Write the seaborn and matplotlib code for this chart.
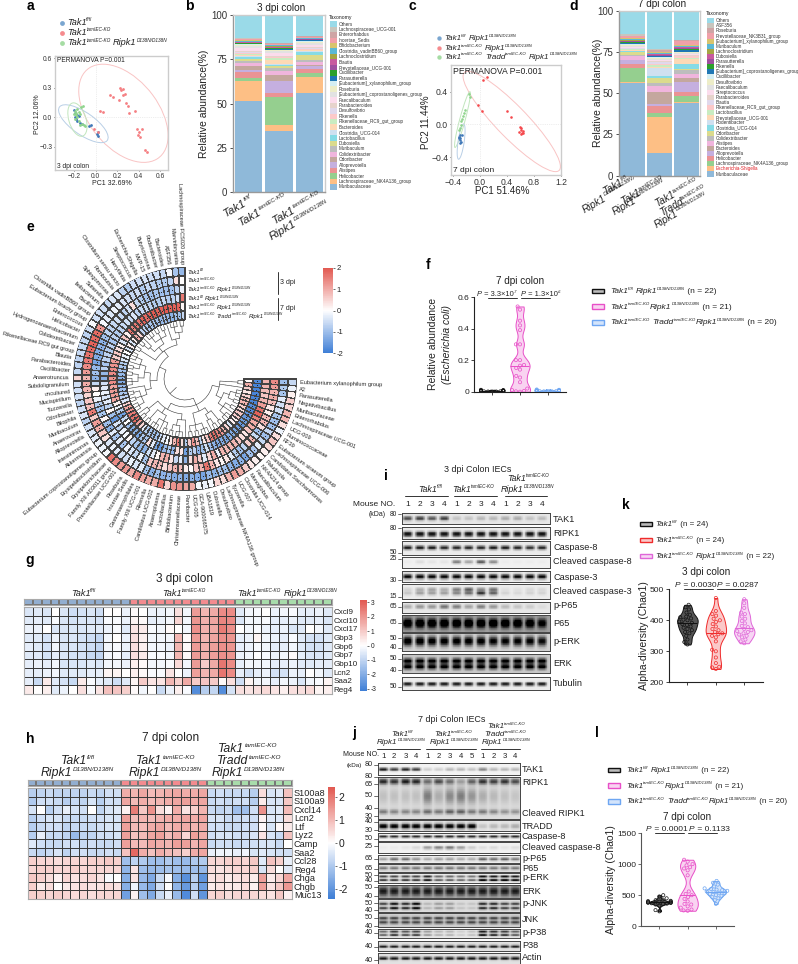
"""Multi-panel colon microbiome and western blot figure (panels a to l)."""

import numpy as np
import pandas as pd
import matplotlib
matplotlib.use("Agg")
import matplotlib.pyplot as plt
from matplotlib.colors import ListedColormap
from matplotlib.patches import Ellipse, Rectangle
import seaborn as sns

W, H = 798, 964

# ─── Panel a / c: PCoA points ────────────────────────────────────────────────

A_RED_X = [0.13, 0.165, 0.226, 0.233, 0.258, 0.22, 0.25, 0.273, 0.28, 0.30, 0.31, 0.37, 0.04, 0.065, -0.015, 0.025, 0.388, 0.43, 0.407, 0.395, 0.413, 0.46, 0.475]
A_RED_Y = [0.23, 0.205, 0.30, 0.275, 0.29, 0.18, 0.23, 0.237, 0.143, 0.115, 0.045, 0.063, 0.066, 0.052, -0.118, -0.146, -0.118, -0.118, -0.146, -0.18, -0.205, -0.334, -0.352]
A_BLUE_X = [-0.19, -0.17, -0.185, -0.16, -0.2, -0.145, -0.13, -0.06, -0.045, 0.02, 0.025, 0.015, -0.177, -0.19]
A_BLUE_Y = [0.04, 0.02, -0.014, 0.01, 0.07, -0.06, -0.066, -0.094, -0.084, -0.153, -0.188, -0.17, -0.038, 0.003]
A_GREEN_X = [-0.19, -0.17, -0.16, -0.2, -0.18, -0.15, -0.17, -0.14, -0.12, -0.19, -0.16, -0.13, -0.11, -0.1, -0.15, -0.18]
A_GREEN_Y = [0.06, 0.08, 0.05, 0.03, 0.04, 0.03, 0.0, 0.1, 0.11, -0.02, -0.04, -0.07, -0.08, -0.09, -0.08, 0.02]

C_RED_X = [0.11, 0.05, -0.03, 0.035, 0.40, 0.46, 0.59, 0.60, 0.58, 0.62, 0.64, 0.607, 0.63, 0.6]
C_RED_Y = [0.58, 0.545, 0.24, 0.17, 0.16, 0.094, -0.025, -0.065, -0.09, -0.10, -0.086, -0.12, -0.107, -0.045]
C_GREEN_X = [-0.16, -0.15, -0.22, -0.237, -0.267, -0.277, -0.286, -0.296, -0.306, -0.257]
C_GREEN_Y = [0.37, 0.34, 0.18, 0.14, 0.066, 0.037, -0.004, -0.045, -0.066, 0.098]
C_BLUE_X = [-0.3, -0.31, -0.29, -0.295, -0.28, -0.27, -0.31, -0.3]
C_BLUE_Y = [-0.13, -0.15, -0.16, -0.19, -0.22, -0.13, -0.17, -0.23]

# center x, center y, major, minor, angle
A_ELLIPSES = {"red": (0.258, 0.04, 1.12, 0.66, -56), "blue": (-0.115, -0.066, 0.56, 0.22, -38), "green": (-0.17, -0.024, 0.35, 0.16, -75)}
C_ELLIPSES = {"red": (0.47, 0.037, 1.85, 0.42, -40), "green": (-0.26, 0.06, 0.72, 0.08, 72), "blue": (-0.28, -0.21, 0.44, 0.09, 80)}

# ─── Panel b / d: taxa stacks, bottom to top ─────────────────────────────────

TAXA_B = ["Muribaculaceae", "Lachnospiraceae_NK4A136_group", "Helicobacter", "Alistipes", "Alloprevotella", "Odoribacter",
          "Colidextribacter", "Muribaculum", "Dubosiella", "Lactobacillus", "Clostridia_UCG-014", "Bacteroides",
          "Rikenellaceae_RC9_gut_group", "Rikenella", "Desulfovibrio", "Parabacteroides", "Faecalibaculum",
          "[Eubacterium]_coprostanoligenes_group", "Roseburia", "[Eubacterium]_xylanophilum_group", "Parasutterella",
          "Oscillibacter", "Prevotellaceae_UCG-001", "Blautia", "Lachnoclostridium", "Clostridia_vadinBB60_group",
          "Bifidobacterium", "Incertae_Sedis", "Enterorhabdus", "Lachnospiraceae_UCG-001", "Others"]
B_BAR1 = [51.5, 11, 2, 3.5, 1, 2, 2, 1, 1, 1.5, 0.5, 0.5, 0.5, 0.5, 0.5, 0.5, 2, 1, 0.5, 0.5, 0.3, 0.3, 0.3, 0.3, 0.3, 0.5, 0.4, 0.3, 0.4, 0.3, 12.9]
B_BAR2 = [34.5, 3.5, 15.5, 2.5, 6.5, 3.5, 2.5, 1.5, 1, 0.5, 1, 2, 1, 0.5, 0.5, 0.5, 1.5, 1, 0.5, 0.5, 0.3, 0.3, 0.5, 0.6, 0.3, 0.4, 0.3, 0.4, 0.4, 0.4, 15.6]
B_BAR3 = [56, 9, 2, 2.5, 1.5, 1, 1.5, 1, 3, 1.5, 0.5, 0.5, 0.5, 0.5, 0.5, 0.5, 1, 1, 1, 0.5, 0.3, 0.2, 0.2, 0.2, 0.3, 0.2, 0.3, 0.4, 0.3, 0.3, 11.8]

TAXA_D = ["Muribaculaceae", "Escherichia-Shigella", "Lachnospiraceae_NK4A136_group", "Helicobacter", "Alloprevotella", "Bacteroides",
          "Alistipes", "Colidextribacter", "Odoribacter", "Clostridia_UCG-014", "Rodentibacter", "Prevotellaceae_UCG-001",
          "Lactobacillus", "Rikenellaceae_RC9_gut_group", "Blautia", "Parabacteroides", "Streptococcus", "Faecalibaculum",
          "Desulfovibrio", "Oscillibacter", "[Eubacterium]_coprostanoligenes_group", "Rikenella", "Parasutterella", "Dubosiella",
          "Lachnoclostridium", "Muribaculum", "[Eubacterium]_xylanophilum_group", "Prevotellaceae_NK3B31_group", "Roseburia", "ASF356", "Others"]
D_BAR1 = [56.4, 0.1, 8.5, 2.7, 2.3, 0.3, 2.4, 0.5, 1.5, 0.8, 0.3, 0.3, 0.4, 0.3, 0.3, 0.5, 0.3, 0.8, 0.5, 0.5, 0.6, 0.6, 0.5, 0.5, 0.5, 0.5, 0.6, 0.9, 0.5, 1.0, 14.1]
D_BAR2 = [14, 21.8, 2, 4.6, 1, 7.6, 3.3, 1.7, 3.5, 1, 4.5, 1, 1, 1, 0.7, 0.7, 0.7, 0.6, 0.4, 0.7, 0.5, 0.3, 0.5, 0.4, 0.4, 0.4, 0.4, 0.5, 0.7, 0.6, 23.3]
D_BAR3 = [44, 0.5, 3.8, 2.7, 6, 2, 2.6, 2.4, 0.5, 3, 0.4, 3, 0.3, 1.2, 0.4, 0.5, 0.4, 0.5, 0.5, 0.4, 0.8, 0.7, 0.6, 0.6, 0.5, 0.6, 0.5, 2.2, 0.6, 0.3, 17.5]

STACK_COLORS = ["#8fb9d9", "#fdbf85", "#95cf8f", "#ea9394", "#c5afdf", "#c4a79e", "#f0b5dd", "#bdbdbd", "#dbdb8d", "#86dbe6",
                "#cfe0f0", "#fdd9b5", "#c9ecc1", "#fcc9c9", "#e0d8ec", "#e6d3cc", "#fbdcec", "#e2e2e2", "#ededc8", "#d4eef3",
                "#1f77b4", "#2ca02c", "#9f4f9f", "#c85a9e", "#a5a544", "#5bb8d5", "#d8c46d", "#f0a0a8", "#cfa5a5", "#c9c5bd", "#9adae8"]

# ─── Panel e: circular heatmap, outer ring first ─────────────────────────────

E_TAXA = ["Lachnospiraceae FCS020 group", "Marvinbryantia", "ASF356", "Bacteroides", "Rodentibacter", "Butyricimonas", "MVP-15",
          "Escherichia-Shigella", "Streptococcus", "Harryflintia", "Clostridium sensu stricto", "Romboutsia", "Sphingomonas",
          "Sutterella", "Ileibacterium", "Bacillus", "Clostridia vadinBB60 group", "Eubacterium brachy group", "Enterococcus",
          "Helicobacter", "Hydrogenoanaerobacterium", "Colidextribacter", "Rikenellaceae RC9 gut group", "Blautia",
          "Parabacteroides", "Oscillibacter", "Anaerotruncus", "Subdoligranulum", "uncultured", "Mucispirillum", "Tuzzerella",
          "Odoribacter", "Bilophila", "Muribaculum", "Anaerovorax", "Alloprevotella", "Intestinimonas", "Akkermansia",
          "Eubacterium coprostanoligenes group", "Erysipelatoclostridium", "Erysipelotrichaceae", "Family XIII AD3011 group",
          "Prevotellaceae UCG-001", "Roseburia", "Incertae Sedis", "Gastranaerophilales", "Family XIII UCG-001", "Rikenella",
          "Candidatus UCG-002", "Anaeroplasma", "Lactobacillus", "Bifidobacterium", "Christensenellaceae", "Parvibacter",
          "UCG-005", "GCA-900066575", "UBA1819", "Dubosiella", "Desulfovibrio", "Lachnospiraceae NK4A136 group", "Tyzzerella",
          "UCG-007", "Clostridia UCG-014", "Monoglobus", "Faecalibaculum", "NK4A214 group", "Paludicola",
          "Candidatus Saccharimonas", "Lachnospiraceae UCG-006", "Eubacterium siraeum group", "RF39", "Ruminococcaceae",
          "UCG-009", "Lachnospiraceae UCG-001", "Enterorhabdus", "Muribaculaceae", "Negativibacillus", "Parasutterella", "A2",
          "Eubacterium xylanophilum group"]
E_RING1 = [-1.1, -0.9, -0.1, -0.6, -0.5, -0.5, -0.4, -0.5, -0.5, -0.8,
           -0.7, -0.4, -0.4, -0.6, -0.5, -0.5, -0.5, -0.1, -0.5, -0.7,
           -0.6, -0.6, -0.6, -0.7, -0.7, -0.6, 0.5, -0.5, -0.5, -0.5,
           -0.7, -0.5, -0.4, -0.7, -0.5, -0.4, -0.3, -0.2, -0.2, -0.1,
           1.7, 1.4, 1.2, 1.2, 1.0, 1.4, 1.1, 1.0, 1.0, 1.7,
           0.5, 1.3, 1.3, 1.1, 1.0, -0.1, -0.2, -0.1, 0.5, 0.4,
           0.9, 1.2, 1.0, 0.6, 0.3, 0.2, 0.1, 0.2, 0.5, 0.7,
           0.4, -0.2, 0.4, 0.9, 0.9, 0.5, 0.6, 0.2, -0.2, -0.6]
E_RING2 = [0.0, 0.4, -0.7, -0.8, -0.8, -0.7, -0.6, -0.8, -0.5, -0.6,
           -0.5, -0.4, -0.3, -0.2, -0.4, -0.3, -0.1, 1.3, 1.8, 1.8,
           1.9, 1.8, 1.7, 1.6, 1.4, 1.2, 0.9, 1.0, 0.9, 0.5,
           0.7, 0.8, 1.6, 0.6, 1.2, 1.0, 0.7, 0.4, -0.4, -0.2,
           -0.3, -0.5, -0.5, -0.2, -0.4, -0.3, -1.0, -1.2, -1.0, -1.2,
           -1.1, -1.3, -1.2, -1.3, -1.2, -1.3, -1.4, -1.1, -1.2, -1.0,
           -1.0, -1.2, -1.3, -1.2, -1.4, -1.0, -0.9, -0.3, -0.6, -1.0,
           -0.6, -1.0, -1.0, -0.9, -0.5, -0.5, -0.3, -0.9, -0.8, -1.0]
E_RING3 = [-0.2, -0.7, -1.0, -1.0, -1.0, -0.9, -1.0, -0.9, -0.8, -0.6,
           0.4, -0.5, -0.7, -0.6, -0.5, -0.6, -0.7, -0.7, -1.0, -1.2,
           -1.2, -1.3, -1.3, -1.4, -1.1, -1.0, -1.2, -0.6, 0.2, 0.0,
           -0.2, -0.8, -1.0, -0.9, 0.1, -1.0, -1.2, -0.3, -0.9, -0.3,
           -0.9, -0.2, -0.4, -0.6, -0.2, -0.9, 0.7, 0.9, 0.8, 0.4,
           0.7, 0.9, 0.8, 0.2, 0.0, 0.7, 0.9, 1.7, 0.9, 0.3,
           0.1, 0.3, -0.3, -0.8, -1.0, -0.7, 0.6, 0.9, -0.6, -1.0,
           0.4, 0.9, 0.8, 0.2, 0.3, 0.8, 1.0, 0.9, 1.2, 1.4]
E_RING4 = [1.6, -0.5, -0.7, -0.8, -0.6, -0.8, -0.8, -0.7, -0.6, -0.6,
           -0.7, -0.4, -0.6, -0.5, -0.6, -0.7, -0.8, -0.7, -0.9, -0.7,
           -0.8, -0.7, -0.7, -0.9, -0.7, -1.1, -1.2, -0.5, -0.3, -0.2,
           -0.4, -0.3, -0.7, 0.1, -1.0, -1.6, -0.4, -0.7, -0.2, -0.1,
           0.1, -0.7, -0.9, -1.1, -1.2, -0.5, -0.3, 0.1, 0.9, 1.0,
           0.3, -0.6, -0.3, -1.2, 0.4, 1.0, 0.6, -0.3, 0.5, 1.0,
           -0.2, 0.9, 0.8, 0.9, 0.9, 0.7, 0.4, 0.3, 0.7, 1.0,
           1.0, 1.5, 1.9, 1.7, 1.2, 0.9, 0.7, 0.8, 0.9, 0.9]
E_RING5 = [0.1, 1.9, 1.9, 1.9, 2.0, 1.9, 1.9, 2.0, 1.9, 1.8,
           1.9, 1.7, 1.6, 1.5, 1.7, 0.2, 0.7, -0.4, 0.2, 0.4,
           0.7, 0.6, 1.2, 1.3, 1.4, 1.4, 1.3, 1.4, 1.1, 1.2,
           1.2, 1.1, 0.2, -0.2, -0.8, -1.5, -0.6, 0.0, -1.0, -1.3,
           -1.2, -1.4, -0.9, -0.9, 0.4, -0.3, -1.4, -1.6, -1.1, -0.9,
           -1.2, 0.4, 0.3, -1.5, -0.8, -0.7, -1.2, -1.0, -0.5, -1.0,
           -1.2, -1.3, -1.3, -1.4, -1.3, -1.3, -1.4, -1.5, -1.6, -1.5,
           -1.6, -1.7, -1.8, -1.8, -1.9, -1.9, -1.9, -1.9, -1.9, -1.8]
E_RING6 = [-0.6, -1.0, -1.0, -1.2, -1.1, -1.0, -1.1, -1.0, -0.9, -0.9,
           -0.9, -0.7, -0.7, 0.5, 1.0, 0.2, -0.4, 0.2, -0.4, 0.0,
           -0.2, -0.4, -0.8, -0.9, -1.0, -1.1, -1.2, -1.3, -1.1, -1.0,
           -0.9, -0.7, -0.4, 0.6, 1.1, 1.3, 1.6, 1.7, 1.8, 1.2,
           0.5, -0.3, -0.8, -0.9, -1.0, -1.0, -0.6, -0.3, -0.1, 0.3,
           0.9, 1.6, 0.4, -0.8, 0.6, 1.3, 0.8, -0.7, 0.3, 0.7,
           1.6, 1.8, 1.5, 1.3, 0.9, 0.5, -0.4, 0.2, 0.2, 0.6,
           0.7, 0.4, 0.6, 0.9, 0.8, 0.5, 0.3, 0.6, 1.0, 0.1]
TREE_RADII = [53, 47, 41, 35, 28, 21]
TREE_SPLITS = [[2, 3, 1, 2], [2, 1, 3], [2, 2, 1], [3, 2], [2, 3], [3, 2]]

# ─── Panels f, k, l: violins ─────────────────────────────────────────────────

F_BLACK = [0.0, 0.001, 0.001, 0.002, 0.002, 0.002, 0.003, 0.003, 0.003, 0.004, 0.004, 0.004, 0.005, 0.005, 0.006, 0.006, 0.007, 0.007, 0.008, 0.009, 0.01, 0.012]
F_PINK = [0.0, 0.002, 0.005, 0.01, 0.02, 0.06, 0.09, 0.1, 0.14, 0.15, 0.165, 0.17, 0.2, 0.2, 0.3, 0.3, 0.39, 0.42, 0.45, 0.52, 0.54]
F_BLUE = [0.001, 0.002, 0.002, 0.003, 0.003, 0.004, 0.004, 0.005, 0.005, 0.005, 0.006, 0.006, 0.007, 0.007, 0.008, 0.008, 0.009, 0.01, 0.012, 0.014]
K_BLACK = [322, 330, 338, 350, 358, 362, 368, 372, 376, 380, 385, 388, 392, 396, 400, 402, 406, 410, 412, 418, 425, 435, 442, 450]
K_RED = [243, 248, 250, 262, 280, 300, 305, 332, 345, 350, 355, 358, 362, 368, 372, 380, 388, 395, 400, 405, 415, 420, 430, 472]
K_VIOLET = [326, 332, 338, 345, 350, 354, 358, 362, 365, 368, 372, 378, 382, 390, 398, 405, 412, 420, 425, 440, 455, 468]
L_BLACK = [240, 260, 330, 350, 360, 365, 370, 375, 378, 380, 385, 388, 390, 395, 400, 405, 410, 420, 430, 450, 480, 500]
L_PINK = [250, 255, 270, 300, 320, 350, 360, 400, 440, 470, 500, 520, 560, 820, 900, 930, 950, 980, 1000, 1040, 1070]
L_BLUE = [360, 420, 450, 470, 490, 500, 520, 530, 540, 550, 560, 570, 580, 590, 600, 610, 640, 670, 700, 730]

# ─── Panel g / h: expression heatmaps ────────────────────────────────────────

G_GENES = ["Cxcl9", "Cxcl10", "Cxcl17", "Gbp3", "Gbp6", "Gbp7", "Gbp10", "Lcn2", "Saa2", "Reg4"]
G_VALUES = [
    [-0.6, -0.5, -0.6, 0, -0.6, -0.8, -0.7, -0.6, -0.8, 0, 0, -0.3, 0.1, 0, -0.3, -0.3, -0.2, 0.6, -0.2, 1.9, 1.4, 1.6, 2.2, 2.2, -0.5, -0.2, -0.1, 0, -0.3, -0.2, -0.1, -0.4, -0.4, -0.3, -0.5],
    [-0.5, -0.4, -0.5, -0.1, -0.6, -0.7, -0.6, -0.6, -0.7, -0.1, -0.1, -0.3, 0.2, 0.1, -0.4, -0.3, -0.2, 0.8, -0.2, 2.0, 1.5, 1.7, 2.3, 2.2, -0.6, -0.2, -0.2, -0.1, -0.4, -0.4, -0.3, -0.5, -0.5, -0.4, -0.6],
    [-0.3, -0.3, 0, -0.6, -0.6, -0.6, -0.6, -0.5, -0.5, -0.3, -0.1, -0.5, 0.5, 0.4, -0.1, -0.2, 0.1, 0, -0.2, 2.1, 1.5, 1.6, 2.5, 2.1, 0, -0.2, -0.1, -0.3, -0.4, -0.3, -0.6, -0.5, 0, -0.2, -0.5],
    [-0.5, -0.5, -0.7, -0.3, -0.6, -0.6, -0.7, -0.8, -1.0, -0.2, 0, -0.3, 0.6, 0.3, -0.2, -0.2, -0.2, 1.4, 0.1, 1.9, 1.4, 1.7, 2.1, 2.0, -0.4, -0.3, 0.2, -0.2, -0.3, -0.4, -0.1, -0.5, -0.7, -0.7, -0.5],
    [-0.4, -0.5, -0.7, -0.2, -0.6, -0.6, -0.7, -0.8, -1.0, -0.2, -0.1, -0.3, 0.6, 0.3, -0.2, -0.2, -0.3, 1.4, 0.1, 1.9, 1.5, 1.8, 2.1, 2.0, -0.4, -0.3, -0.1, -0.2, -0.4, -0.4, -0.2, -0.5, -0.7, -0.7, -0.5],
    [-0.5, -0.5, -0.7, -0.4, -0.6, -0.7, -0.7, -0.9, -1.0, -0.2, -0.1, -0.4, 0.6, 0.4, -0.1, -0.1, -0.2, 1.4, 0.1, 1.9, 1.5, 1.8, 2.1, 2.0, -0.3, -0.2, 0, -0.1, -0.3, -0.2, 0.1, -0.4, -0.6, -0.6, -0.5],
    [-0.4, -0.3, -0.4, -0.2, -0.6, -0.6, -0.6, -0.5, -0.6, -0.2, -0.2, -0.3, 0.3, 0.1, -0.2, -0.2, -0.1, 0.7, -0.2, 1.9, 1.0, 1.6, 2.6, 2.2, -0.4, -0.2, -0.2, -0.2, -0.4, -0.4, -0.3, -0.5, -0.5, -0.4, -0.4],
    [-0.4, -0.4, -0.3, -0.2, -0.5, -0.5, -0.5, -0.4, -0.4, 0.2, 0.2, 0, 0.3, 0.1, -0.1, -0.1, 0.5, 0, -0.3, 1.8, 1.4, 1.6, 2.6, 2.2, -0.4, -0.7, -0.4, -0.3, -0.7, -0.7, -0.3, -0.4, 0, -0.2, -0.5],
    [-0.4, -0.9, 0.4, -0.5, -0.7, -0.9, 0.4, -0.1, -0.4, -0.5, -0.8, -0.5, 0.2, 1.0, 0.5, 0.5, 1.4, 0.9, 1.6, 1.0, 1.1, 1.0, 0.1, 0.6, -0.8, 0.2, -0.2, -0.2, -0.4, -0.2, -0.3, -0.6, -0.2, -0.1, 0.2],
    [0.4, 0, 0.3, -0.5, -0.3, 0.0, 0.6, -0.1, 0.5, 1.2, 1.1, 0.9, 0.1, -0.2, 0, -0.9, -0.3, 0.3, -0.1, -2.8, -1.2, -1.0, -2.8, -0.7, 0.6, 0.5, 0.6, 0.7, 0.5, 0.3, 0.6, 0.6, 0.7, 0.2, 0.3],
]
G_GROUPS = [0] * 12 + [1] * 12 + [2] * 11

H_GENES = ["S100a8", "S100a9", "Cxcl14", "Lcn2", "Ltf", "Lyz2", "Camp", "Saa2", "Ccl28", "Reg4", "Chga", "Chgb", "Muc13"]
H_VALUES = [
    [-0.9, -0.8, -0.7, -0.8, -0.8, -0.8, -0.8, -0.7, -0.8, -0.6, -0.6, 1.2, 1.1, 1.3, 1.0, 1.1, 1.2, 1.3, 1.2, 1.2, 1.3, -0.7, -0.6, -0.7, -0.7, -0.7, -0.9, 0.5, -0.5, -0.4, 0.9],
    [-1.0, -0.6, -0.6, -0.7, -0.9, -0.7, -0.8, -0.5, -0.9, -0.6, -0.6, 1.3, 1.0, 1.2, 1.0, 1.1, 1.2, 1.3, 1.4, 1.2, 1.3, -0.7, -0.6, -0.7, -0.6, -0.6, -0.9, 0.3, -0.5, -0.5, 0.8],
    [-0.5, 0.0, -0.9, -0.6, -0.3, -0.5, -0.6, 0.0, -0.8, -0.5, -0.4, 0.2, 1.9, 0.8, 1.6, 0.5, 0.2, 1.2, 0.4, 0.7, 1.1, -0.7, -0.8, -0.7, -1.2, -1.2, -0.6, 1.6, -0.5, -0.4, 1.0],
    [-0.9, -0.6, -0.5, -0.5, -0.7, -0.7, -0.7, -0.6, -0.6, -0.5, -0.5, 1.4, 1.0, 1.1, 1.0, 1.1, 1.2, 1.2, 1.3, 1.2, 1.3, -0.5, -0.5, -0.7, -0.7, -0.6, -0.6, 0.2, -0.4, -0.4, 0.5],
    [-0.9, -0.7, -0.6, -0.6, -0.8, -0.7, -0.7, -0.7, -0.6, -0.5, -0.5, 1.4, 1.0, 1.0, 1.2, 1.3, 1.0, 1.2, 1.2, 1.1, 1.2, -0.6, -0.6, -0.7, -0.7, -0.6, -0.6, 0.1, -0.5, 0.1, 0.3],
    [-0.9, -0.3, -0.7, -0.7, -0.8, -1.3, -0.8, -0.8, -0.6, -0.6, -0.5, 1.4, 0.9, 1.0, 1.3, 1.4, 1.0, 1.2, 0.6, 1.4, 1.2, -0.6, -0.5, -0.5, -0.6, -0.6, -0.5, 0.4, -0.5, -0.7, 0.9],
    [-0.4, -0.6, -0.7, -0.7, -0.6, -0.6, -0.7, -0.6, -0.7, -0.7, -0.6, 1.4, 1.0, 1.0, 1.3, 1.2, 1.1, 1.4, 1.4, 1.1, 1.3, -0.7, -0.6, -0.6, -0.7, -0.6, -0.6, -0.5, -0.5, -0.7, 0.0],
    [-0.7, -0.8, -0.7, -0.5, -0.8, -0.6, -0.6, -0.7, -0.7, -0.6, -0.7, 0.9, 2.2, 1.2, 0.9, 1.2, 1.0, 0.9, 0.7, 1.2, 1.3, -0.3, -0.2, -0.2, -0.3, -0.2, -0.5, -0.4, -0.5, -0.6, -0.6],
    [0.7, 0.6, 0.6, 0.5, 0.6, 0.6, 0.6, 0.7, 0.7, 0.8, 0.7, -1.2, -0.8, -1.0, -1.2, -1.2, -1.0, -1.2, -1.3, -1.0, -1.0, 0.6, 0.6, 0.7, 0.7, 0.6, 0.8, -0.4, 0.9, 0.7, -0.3],
    [0.6, 0.7, 0.7, 0.6, 0.6, 0.7, 0.6, 0.6, 0.6, 0.6, 0.6, -1.4, 0.4, -1.2, -1.3, -1.2, -1.1, -1.2, -1.3, -1.2, -1.3, 0.5, 0.4, 0.5, 0.6, 0.6, 0.7, -0.5, 0.5, 0.0, -0.4],
    [0.8, 0.7, 0.5, 0.2, 0.6, 0.4, 0.5, 0.6, 0.4, -0.1, 0.0, -1.5, 0.4, -1.3, -1.6, -0.7, -0.1, -1.5, -2.1, -0.9, -2.0, 0.4, 0.5, 0.3, 0.4, 0.5, 0.3, 1.4, 0.3, 0.6, 1.3],
    [0.7, 0.3, 0.5, 0.0, 0.3, 0.4, 0.5, 0.4, 0.4, 0.5, 0.4, -1.5, -0.2, -1.3, -1.6, -0.6, 0.0, -1.4, -1.9, -0.9, -1.8, 0.3, 0.4, 0.3, 0.3, 0.5, 0.2, 1.4, 0.4, 0.8, 1.5],
    [0.7, 0.7, 0.6, 0.7, 0.6, 0.5, 0.6, 0.5, 0.6, 0.6, 0.6, -1.8, 0.2, -1.2, -1.6, -0.7, -0.3, -1.3, -2.2, -0.6, -2.0, 0.6, 0.7, 0.5, 0.6, 0.6, 0.6, 0.5, 0.4, 0.8, 0.2],
]
H_GROUPS = [0] * 11 + [1] * 10 + [2] * 10

# ─── Panel i / j: band intensities per lane ──────────────────────────────────

I_TAK1 = [0.65, 0.7, 0.6, 0.7, 0.15, 0.15, 0.2, 0.2, 0.25, 0.25, 0.15, 0.18]
I_RIPK1 = [0.95] * 12
I_CASP8 = [0.85, 0.85, 0.85, 0.8, 0.8, 0.8, 0.8, 0.85, 0.85, 0.8, 0.75, 0.8]
I_CL_CASP8 = [0.02, 0.08, 0.05, 0.05, 0.45, 0.3, 0.6, 0.4, 0.02, 0.02, 0.02, 0.02]
I_CASP3 = [0.95] * 12
I_CL_CASP3_A = [0.1, 0.25, 0.3, 0.25, 0.45, 0.6, 0.4, 0.5, 0.05, 0.05, 0.08, 0.08]
I_CL_CASP3_B = [0.15, 0.3, 0.3, 0.3, 0.4, 0.5, 0.75, 0.55, 0.1, 0.08, 0.1, 0.1]
I_PP65 = [0.25, 0.35, 0.35, 0.5, 0.45, 0.3, 0.45, 0.35, 0.2, 0.15, 0.12, 0.05]
I_P65 = [0.95, 0.95, 0.95, 0.95, 0.95, 0.95, 0.95, 0.95, 0.95, 0.95, 0.9, 0.75]
I_PERK = [1.0, 1.0, 0.95, 0.95, 0.95, 0.95, 0.95, 0.9, 0.9, 0.9, 0.9, 0.85]
I_ERK = [0.9] * 12
I_TUB = [0.95] * 12

J_TAK1 = [0.9, 0.75, 0.85, 0.75, 0.15, 0.15, 0.25, 0.25, 0.2, 0.45, 0.25, 0.25, 0.25]
J_RIPK1 = [0.75, 0.7, 0.8, 0.75, 0.45, 0.6, 0.45, 0.25, 0.5, 0.7, 0.65, 0.7, 0.6]
J_SMEAR = [0.12, 0.12, 0.12, 0.12, 0.4, 0.2, 0.35, 0.4, 0.3, 0.2, 0.15, 0.12, 0.1]
J_CL_RIPK1 = [0.4, 0.35, 0.35, 0.35, 0.45, 0.4, 0.5, 0.5, 0.4, 0.4, 0.35, 0.3, 0.3]
J_TRADD = [1, 1, 1, 1, 1, 1, 1, 1, 1, 0.15, 0.2, 0.2, 0.25]
J_CASP8 = [0.85] * 13
J_CL_CASP8 = [0.03, 0.03, 0.05, 0.1, 0.35, 0.45, 0.5, 0.35, 0.15, 0.08, 0.1, 0.05, 0.08]
J_PP65 = [0.3, 0.5, 0.5, 0.35, 0.25, 0.3, 0.3, 0.25, 0.25, 0.55, 0.5, 0.55, 0.45]
J_P65 = [0.4] * 13
J_PERK = [0.7, 0.7, 0.7, 0.7, 0.85, 0.55, 0.55, 0.5, 0.5, 0.95, 0.9, 0.95, 0.9]
J_ERK = [0.6] * 13
J_PJNK = [0.6, 0.8, 0.7, 0.85, 0.15, 0.25, 0.25, 0.1, 0.1, 0.7, 0.7, 0.6, 0.6]
J_JNK = [0.55] * 13
J_PP38 = [0.5, 0.7, 0.6, 0.65, 0.3, 0.2, 0.2, 0.1, 0.15, 0.85, 0.75, 0.7, 0.55]
J_P38 = [0.8] * 13
J_ACTIN = [0.85] * 13

HEAT_CMAP = sns.blend_palette(["#3f7fd6", "#ffffff", "#e25a52"], as_cmap=True)
GROUP_CMAP = ListedColormap(["#92aed0", "#f38b8f", "#a8dcab"])

sns.set_theme(style="ticks")
plt.rcParams["font.family"] = ["Liberation Sans", "DejaVu Sans"]
plt.rcParams["axes.linewidth"] = 0.7
plt.rcParams["xtick.major.width"] = 0.6
plt.rcParams["ytick.major.width"] = 0.6
TEXT = "#222222"

fig = plt.figure(figsize=(W / 100, H / 100), dpi=100)
fig.patch.set_facecolor("white")
renderer = fig.canvas.get_renderer()

ov = fig.add_axes([0, 0, 1, 1], zorder=10)
ov.set_xlim(0, W)
ov.set_ylim(H, 0)
ov.axis("off")
ov.patch.set_alpha(0)


def px_axes(x0, y0, x1, y1, **kwargs):
    return fig.add_axes([x0 / W, 1 - y1 / H, (x1 - x0) / W, (y1 - y0) / H], **kwargs)


def rich(x, y, parts, size, rotation=0, color=TEXT):
    """Lay out (text, kind) runs on a baseline; kinds: i italic, s superscript, r roman, g gap."""
    ang = np.radians(rotation)
    for s, kind in parts:
        if kind == "g":
            w = 0.26 * size * 100 / 72
        else:
            fs = size * 0.52 if kind == "s" else size
            rise = size * 0.42 * 100 / 72 if kind == "s" else 0
            px, py = x - np.sin(ang) * rise, y - np.cos(ang) * rise
            t = ov.text(px, py, s, fontsize=fs, style="normal" if kind == "r" else "italic",
                        ha="left", va="baseline", color=color, rotation=0, rotation_mode="anchor")
            w = t.get_window_extent(renderer).width
            t.set_rotation(rotation)
        x += w * np.cos(ang)
        y -= w * np.sin(ang)


def label(x, y, s, size=6, ha="left", va="center", **kwargs):
    kwargs.setdefault("color", TEXT)
    ov.text(x, y, s, fontsize=size, ha=ha, va=va, **kwargs)


TAK_FL = [("Tak1", "i"), ("fl/fl", "s")]
TAK_KO = [("Tak1", "i"), ("tamIEC-KO", "s")]
RIPK = [("Ripk1", "i"), ("D138N/D138N", "s")]
TRADD = [("Tradd", "i"), ("tamIEC-KO", "s")]
GAP = [("", "g")]

for letter, x, y in [("a", 30, 6), ("b", 189, 6), ("c", 412, 6), ("d", 574, 6), ("e", 30, 227), ("f", 428, 265),
                     ("g", 30, 560), ("h", 30, 739), ("i", 386, 476), ("j", 354, 733), ("k", 626, 505), ("l", 597, 733)]:
    label(x, y, letter, size=10, ha="center", fontweight="bold", color="black")


# ─── Scatter panels ──────────────────────────────────────────────────────────

def pcoa_panel(rect, series, ellipses, xlim, ylim, xticks, yticks, fs):
    ax = px_axes(*rect)
    for name, xs, ys, col in series:
        sns.scatterplot(x=xs, y=ys, color=col, s=fs["s"], linewidth=0, ax=ax, zorder=3)
    edge = {"red": "#f9c4c4", "blue": "#b9cfe6", "green": "#c1e6bd"}
    for name, (cx, cy, major, minor, angle) in ellipses.items():
        ax.add_patch(Ellipse((cx, cy), major, minor, angle=angle, fill=False, edgecolor=edge[name], linewidth=0.7))
    ax.axhline(0, color="#dddddd", linewidth=0.5, linestyle=":")
    ax.axvline(0, color="#dddddd", linewidth=0.5, linestyle=":")
    ax.set(xlim=xlim, ylim=ylim, xticks=xticks, yticks=yticks)
    ax.tick_params(labelsize=fs["tick"], length=1, pad=1, colors="#333333")
    for sp in ax.spines.values():
        sp.set_color("#cccccc")
        sp.set_linewidth(1)
    return ax


pcoa_panel((55, 56, 168, 170),
           [("blue", A_BLUE_X, A_BLUE_Y, "#3f78b8"), ("red", A_RED_X, A_RED_Y, "#f57f82"), ("green", A_GREEN_X, A_GREEN_Y, "#8fd48d")],
           A_ELLIPSES, (-0.379, 0.673), (-0.537, 0.623), [-0.2, 0, 0.2, 0.4, 0.6], [-0.3, 0, 0.3, 0.6],
           {"s": 4, "tick": 4.8})
pcoa_panel((451, 65, 561, 175),
           [("green", C_GREEN_X, C_GREEN_Y, "#8fd48d"), ("blue", C_BLUE_X, C_BLUE_Y, "#3f78b8"), ("red", C_RED_X, C_RED_Y, "#f5494d")],
           C_ELLIPSES, (-0.43, 1.2), (-0.62, 0.73), [-0.4, 0, 0.4, 0.8, 1.2], [-0.4, 0, 0.4],
           {"s": 3.5, "tick": 6.2})

label(57, 60, "PERMANOVA P=0.001", size=4.8)
label(57, 166, "3 dpi colon", size=4.8)
label(111.7, 183.5, "PC1 32.69%", size=5, ha="center")
label(37.7, 114, "PC2 12.06%", size=5, ha="center", rotation=90)
label(453, 71, "PERMANOVA P=0.001", size=6.2)
label(453, 171, "7 dpi colon", size=6)
label(502.7, 191, "PC1 51.46%", size=7, ha="center")
label(426, 121.7, "PC2 11.44%", size=7, ha="center", rotation=90)

for y, col, parts in [(22.7, "#7aa6d0", TAK_FL), (32.7, "#f58b8e", TAK_KO), (43, "#a5dca3", TAK_KO + GAP + RIPK)]:
    ov.scatter([61.7], [y], s=12, color=col, linewidth=0)
    rich(66.7, y + 2.4, parts, 6.6)
for y, col, parts in [(37.7, "#7aa6d0", TAK_FL + GAP + RIPK), (47.7, "#f58b8e", TAK_KO + GAP + RIPK),
                      (56.5, "#a5dca3", TAK_KO + GAP + TRADD + GAP + RIPK)]:
    ov.scatter([439.3], [y], s=10, color=col, linewidth=0)
    rich(444, y + 2.2, parts, 5.8)


# ─── Stacked bars ────────────────────────────────────────────────────────────

def stacked_panel(rect, taxa, bars, ylabel_x, title_xy, tick_size):
    ax = px_axes(*rect)
    samples = ["s1", "s2", "s3"]
    bottom = np.zeros(3)
    for i, name in enumerate(taxa):
        vals = np.array([b[i] for b in bars], dtype=float)
        sns.barplot(x=samples, y=vals, bottom=bottom, color=STACK_COLORS[i], saturation=1, width=0.9,
                    linewidth=0, edgecolor="none", ax=ax)
        bottom += vals
    ax.set(xlim=(-0.5, 2.5), ylim=(0, 100), yticks=[0, 25, 50, 75, 100], xlabel="", ylabel="")
    ax.set_xticklabels([])
    ax.tick_params(axis="y", labelsize=tick_size, length=2.5, pad=1.5, colors="#333333")
    ax.tick_params(axis="x", length=2, color="#888888")
    for sp in ax.spines.values():
        sp.set_color("#999999")
        sp.set_linewidth(1)
    ax.spines["top"].set_color("#cccccc")
    ax.spines["right"].set_color("#cccccc")
    label(ylabel_x, (rect[1] + rect[3]) / 2, "Relative abundance(%)", size=7.5, ha="center", rotation=90)
    label(title_xy[0], title_xy[1], title_xy[2], size=7.2, ha="center")
    return ax


def taxa_legend(taxa, x_swatch, y_top, step, title_y, red=None):
    label(x_swatch - 1, title_y, "Taxonomy", size=3.7)
    for i, name in enumerate(reversed(taxa)):
        y = y_top + i * step
        ov.add_patch(Rectangle((x_swatch, y - step / 2), 7, step, facecolor=STACK_COLORS[len(taxa) - 1 - i], edgecolor="none"))
        label(x_swatch + 8.5, y, name, size=3.3, color="#e01f26" if name == red else "#333333")


stacked_panel((233, 15, 325, 192), TAXA_B, [B_BAR1, B_BAR2, B_BAR3], 204, (281, 8, "3 dpi colon"), 7)
stacked_panel((619, 10.7, 700, 175.7), TAXA_D, [D_BAR1, D_BAR2, D_BAR3], 598, (662, 4, "7 dpi colon"), 7)
taxa_legend(TAXA_B, 330, 24, 5.43, 17.5)
taxa_legend(TAXA_D, 707, 20.7, 5.11, 14, red="Escherichia-Shigella")

rich(226, 217, TAK_FL, 8.2, rotation=30)
rich(241, 226, TAK_KO, 8.2, rotation=30)
rich(275, 224, TAK_KO, 8.2, rotation=30)
rich(272, 240, RIPK, 8.2, rotation=30)
rich(605, 195, TAK_FL, 7.2, rotation=30)
rich(585, 213, RIPK, 7.2, rotation=30)
rich(623, 205, TAK_KO, 7.2, rotation=30)
rich(615, 215, RIPK, 7.2, rotation=30)
rich(657, 207, TAK_KO, 7.2, rotation=30)
rich(662, 216, TRADD, 7.2, rotation=30)
rich(657, 228, RIPK, 7.2, rotation=30)


# ─── Circular heatmap ────────────────────────────────────────────────────────

E_CX, E_CY, E_R0, E_R1 = 185, 379, 59, 112
ax_e = px_axes(E_CX - E_R1, E_CY - E_R1, E_CX + E_R1, E_CY + E_R1, projection="polar")
rings = np.array([E_RING1, E_RING2, E_RING3, E_RING4, E_RING5, E_RING6], dtype=float)
n_taxa = rings.shape[1]
theta_edges = np.radians(np.linspace(90, 360, n_taxa + 1))
r_edges = np.linspace(E_R0, E_R1, 7)
ax_e.pcolormesh(theta_edges, r_edges, rings[::-1], cmap=HEAT_CMAP, vmin=-2, vmax=2, edgecolors="#444444", linewidth=0.25)
theta_mid = (theta_edges[:-1] + theta_edges[1:]) / 2
r_mid = (r_edges[:-1] + r_edges[1:]) / 2
for ring_i, r in zip([1, 2, 4, 5], [r_mid[4], r_mid[3], r_mid[1], r_mid[0]]):
    keep = np.abs(rings[ring_i]) >= 0.8
    ax_e.scatter(theta_mid[keep], np.full(keep.sum(), r), s=0.4, color="#111111", linewidth=0, zorder=4)

# dendrogram: merge neighbouring leaves inward level by level
nodes = [(t, E_R0) for t in theta_mid]
for radius, splits in zip(TREE_RADII, TREE_SPLITS):
    merged, i, s = [], 0, 0
    while i < len(nodes):
        group = nodes[i:i + splits[s % len(splits)]]
        for t, r in group:
            ax_e.plot([t, t], [r, radius], color="#333333", linewidth=0.4)
        ts = [t for t, _ in group]
        ax_e.plot(np.linspace(min(ts), max(ts), 12), np.full(12, radius), color="#333333", linewidth=0.4)
        merged.append((np.mean(ts), radius))
        i += len(group)
        s += 1
    nodes = merged
ts = [t for t, _ in nodes]
for t, r in nodes:
    ax_e.plot([t, t], [r, 12], color="#333333", linewidth=0.4)
ax_e.plot(np.linspace(min(ts), max(ts), 30), np.full(30, 12), color="#333333", linewidth=0.4)

for t, name in zip(theta_mid, E_TAXA):
    deg = np.degrees(t)
    left = deg < 270
    ax_e.text(t, E_R1 + 3, name, fontsize=4.1, color=TEXT, va="center", ha="right" if left else "left",
              rotation=deg - 180 if left else deg - 360, rotation_mode="anchor", clip_on=False)
ax_e.set_theta_zero_location("E")
ax_e.set_theta_direction(1)
ax_e.set_rlim(0, E_R1)
ax_e.axis("off")

row_parts = [TAK_FL, TAK_KO, TAK_KO + GAP + RIPK, TAK_FL + GAP + RIPK, TAK_KO + GAP + RIPK, TAK_KO + GAP + TRADD + GAP + RIPK]
for i, parts in enumerate(row_parts):
    rich(187, 273.5 + i * 8.85, parts, 4.2)
ov.plot([278, 278], [272, 294], color="#333333", linewidth=0.7)
ov.plot([278, 278], [298, 320], color="#333333", linewidth=0.7)
label(280.5, 283, "3 dpi", size=5)
label(280.5, 308, "7 dpi", size=5)


def heat_colorbar(rect, vmax, ticks, size):
    cax = px_axes(*rect)
    sns.heatmap(np.linspace(vmax, -vmax, 120).reshape(-1, 1), cmap=HEAT_CMAP, vmin=-vmax, vmax=vmax, cbar=False,
                xticklabels=False, yticklabels=False, ax=cax)
    cax.set_yticks([(vmax - t) / (2 * vmax) * 120 for t in ticks])
    cax.set_yticklabels([str(t) for t in ticks], rotation=0, fontsize=size, color=TEXT)
    cax.yaxis.tick_right()
    cax.tick_params(axis="y", length=1.5, pad=1, color="#555555")
    return cax


heat_colorbar((323, 268, 333, 353), 2, [2, 1, 0, -1, -2], 5.5)
heat_colorbar((360, 600, 367, 691), 3.15, [3, 2, 1, 0, -1, -2, -3], 4.8)
heat_colorbar((328, 787, 335, 899), 2.43, [2, 1, 0, -1, -2], 7.5)


# ─── Expression heatmaps ─────────────────────────────────────────────────────

def expression_panel(bar_rect, heat_rect, values, genes, groups, vmax, gene_size):
    ax_bar = px_axes(*bar_rect)
    sns.heatmap([groups], cmap=GROUP_CMAP, vmin=-0.5, vmax=2.5, cbar=False, xticklabels=False, yticklabels=False,
                linewidths=0.3, linecolor="#777777", ax=ax_bar)
    ax = px_axes(*heat_rect)
    df = pd.DataFrame(values, index=genes)
    sns.heatmap(df, cmap=HEAT_CMAP, vmin=-vmax, vmax=vmax, cbar=False, xticklabels=False, yticklabels=True,
                linewidths=0.45, linecolor="#3a3a3a", ax=ax)
    ax.yaxis.tick_right()
    ax.tick_params(axis="y", length=0, pad=1.5, labelsize=gene_size, labelcolor=TEXT, rotation=0)
    for a in (ax, ax_bar):
        for sp in a.spines.values():
            sp.set_visible(True)
            sp.set_color("#aaaaaa")
            sp.set_linewidth(0.8)


expression_panel((24.3, 599, 331.7, 605), (24.3, 607, 331.7, 694), G_VALUES, G_GENES, G_GROUPS, 3.15, 5.8)
expression_panel((27.7, 780, 291.7, 786), (27.7, 788, 291.7, 899), H_VALUES, H_GENES, H_GROUPS, 2.43, 6.6)

label(184, 579, "3 dpi colon", size=8.5, ha="center")
rich(70.7, 596, TAK_FL, 6.6)
rich(162, 596, TAK_KO, 6.6)
rich(237, 596, TAK_KO + GAP + RIPK, 6.6)

label(171, 738, "7 dpi colon", size=8.5, ha="center")
rich(61, 764, TAK_FL, 8.8)
rich(41, 776, RIPK, 8.8)
rich(136, 764, TAK_KO, 8.8)
rich(129, 776, RIPK, 8.8)
rich(218, 752, TAK_KO, 8.8)
rich(217, 764, TRADD, 8.8)
rich(212, 776, RIPK, 8.8)


# ─── Violins ─────────────────────────────────────────────────────────────────

def violin_panel(rect, values, lines, fills, ylim, yticks, fmt, bw, spine="#222222"):
    ax = px_axes(*rect)
    groups = ["g1", "g2", "g3"]
    df = pd.DataFrame({"group": np.repeat(groups, [len(v) for v in values]), "value": np.concatenate(values)})
    sns.violinplot(data=df, x="group", y="value", hue="group", order=groups, hue_order=groups,
                   palette=dict(zip(groups, fills)), legend=False, inner=None, cut=0, density_norm="width",
                   width=0.72, bw_adjust=bw, linewidth=0.7, saturation=1, ax=ax)
    polys = list(ax.collections)
    for i, poly in enumerate(polys):
        poly.set_edgecolor(lines[i])
        med = ax.hlines(np.median(values[i]), i - 0.5, i + 0.5, color=lines[i], linewidth=0.7, zorder=2)
        med.set_clip_path(poly.get_paths()[0], poly.get_transform())
    for i, g in enumerate(groups):
        sns.swarmplot(data=df[df["group"] == g], x="group", y="value", order=groups, color="none", edgecolor=lines[i],
                      linewidth=0.5, size=2.3, ax=ax, warn_thresh=1)
    ax.set(xlim=(-0.65, 2.65), ylim=ylim, yticks=yticks, xlabel="", ylabel="", xticks=[0, 1, 2])
    ax.set_xticklabels([])
    ax.set_yticklabels([fmt.format(t) for t in yticks])
    ax.patch.set_alpha(0)
    ax.tick_params(axis="y", labelsize=6, length=2.5, pad=1, labelcolor=TEXT, color=spine)
    ax.tick_params(axis="x", length=2, color=spine)
    for side in ("top", "right"):
        ax.spines[side].set_visible(False)
    for side in ("left", "bottom"):
        ax.spines[side].set_color(spine)
        ax.spines[side].set_linewidth(0.8)
    return ax


def violin_key(x_box, x_text, rows, size):
    for y, line, fill, parts in rows:
        ov.add_patch(Rectangle((x_box, y - 2.3), 11.5, 4.6, facecolor=fill, edgecolor=line, linewidth=1))
        rich(x_text, y + 2, parts, size)


def p_header(items, size):
    for x_text, y_text, parts, x0, x1, y_line in items:
        rich(x_text, y_text, parts, size)
        ov.plot([x0, x1], [y_line, y_line], color="#333333", linewidth=0.7)


BLACK, BLACK_F, BLACK_V = "#111111", "#bbbbbb", "#555555"
MAGENTA, MAGENTA_F = "#e84fc8", "#f9d3f1"
SKY, SKY_F = "#6ea6f2", "#d3e4fb"
RED, RED_F = "#ef2b2b", "#fbc9c9"
VIOLET, VIOLET_F = "#df66d8", "#f7d6f4"

violin_panel((474, 297, 566, 391.7), [F_BLACK, F_PINK, F_BLUE], [BLACK, MAGENTA, SKY], [BLACK_V, MAGENTA_F, SKY_F],
             (0, 0.6), [0, 0.2, 0.4, 0.6], "{:g}", 0.35)
label(520, 281, "7 dpi colon", size=7.2, ha="center")
label(433, 344, "Relative abundance", size=7.5, ha="center", rotation=90)
label(447, 344, "(Escherichia coli)", size=7.5, ha="center", rotation=90, style="italic")
p_header([(477, 296, [("P", "i"), (" = 3.3×10", "r"), ("-7", "s")], 488, 517, 298),
          (521, 296, [("P", "i"), (" = 1.3×10", "r"), ("-6", "s")], 521, 550, 298)], 5.4)
R_N = lambda n: [(f" (n = {n})", "r")]
violin_key(592, 610, [(291, BLACK, BLACK_F, TAK_FL + GAP + RIPK + R_N(22)),
                      (306.7, MAGENTA, MAGENTA_F, TAK_KO + RIPK + R_N(21)),
                      (322.3, SKY, SKY_F, TAK_KO + GAP + TRADD + RIPK + R_N(20))], 6)

violin_panel((669, 589.3, 762.7, 682.3), [K_BLACK, K_RED, K_VIOLET], [BLACK, RED, VIOLET], [BLACK_V, RED_F, VIOLET_F],
             (200, 500), [200, 300, 400, 500], "{:d}", 0.6)
label(706, 572, "3 dpi colon", size=7.2, ha="center")
label(644, 636, "Alpha-diversity (Chao1)", size=7.5, ha="center", rotation=90)
p_header([(675, 587, [("P", "i"), (" = 0.0030", "r")], 684, 713, 589),
          (717, 587, [("P", "i"), (" = 0.0287", "r")], 717, 746, 589)], 6)
violin_key(640, 655, [(524, BLACK, BLACK_F, TAK_FL + R_N(24)),
                      (540, RED, RED_F, TAK_KO + R_N(24)),
                      (556, VIOLET, VIOLET_F, TAK_KO + GAP + RIPK + R_N(22))], 5.8)

violin_panel((641, 833, 734.3, 926.3), [L_BLACK, L_PINK, L_BLUE], [BLACK, MAGENTA, SKY], [BLACK_V, MAGENTA_F, SKY_F],
             (0, 1500), [0, 500, 1000, 1500], "{:d}", 0.6, spine="#555555")
label(687, 816.7, "7 dpi colon", size=7.2, ha="center")
label(611, 880, "Alpha-diversity (Chao1)", size=7.5, ha="center", rotation=90)
p_header([(646, 831, [("P", "i"), (" = 0.0001", "r")], 655, 684, 833),
          (689, 831, [("P", "i"), (" = 0.1133", "r")], 688, 717, 833)], 6)
violin_key(608, 626, [(770, BLACK, BLACK_F, TAK_FL + GAP + RIPK + R_N(22)),
                      (785.7, MAGENTA, MAGENTA_F, TAK_KO + RIPK + R_N(21)),
                      (801.3, SKY, SKY_F, TAK_KO + GAP + TRADD + RIPK + R_N(20))], 5.8)


# ─── Western blots ───────────────────────────────────────────────────────────

def blot(x0, x1, y0, y1, lanes, bands, background=0.08):
    """bands: (relative y, lane intensities, relative thickness)."""
    ax = px_axes(x0, y0, x1, y1)
    ny, nx = max(int((y1 - y0) * 1.5), 8), int((x1 - x0) * 1.5)
    yy = (np.arange(ny) + 0.5) / ny
    xx = x0 + (np.arange(nx) + 0.5) / nx * (x1 - x0)
    img = np.full((ny, nx), float(background))
    for y_rel, amps, sigma in bands:
        vert = np.exp(-((yy - y_rel) / sigma) ** 2)
        for lane_x, amp in zip(lanes, amps):
            horiz = np.exp(-((xx - lane_x) / 4.6) ** 4)
            img += amp * np.outer(vert, horiz)
    sns.heatmap(img, cmap="gray_r", vmin=0, vmax=1.05, cbar=False, xticklabels=False, yticklabels=False, ax=ax)
    for sp in ax.spines.values():
        sp.set_visible(True)
        sp.set_color("#444444")
        sp.set_linewidth(0.7)


I_LANES = [407.7, 420, 432, 444.3, 456.7, 468.7, 481, 493.3, 505.3, 517.7, 530, 542]
for y0, y1, bands, bg in [
    (512.7, 524, [(0.5, I_TAK1, 0.2)], 0.1),
    (526.7, 539.3, [(0.58, I_RIPK1, 0.2)], 0.08),
    (540.7, 554.7, [(0.5, I_CASP8, 0.15)], 0.08),
    (557, 568, [(0.45, I_CL_CASP8, 0.16)], 0.06),
    (570.7, 582, [(0.52, I_CASP3, 0.22)], 0.08),
    (584, 599.3, [(0.36, I_CL_CASP3_A, 0.12), (0.6, I_CL_CASP3_B, 0.14)], 0.08),
    (601.7, 612.7, [(0.45, I_PP65, 0.18)], 0.1),
    (615, 631.7, [(0.5, I_P65, 0.28)], 0.4),
    (633.3, 650.7, [(0.45, I_PERK, 0.28)], 0.18),
    (654, 673.3, [(0.36, I_ERK, 0.14), (0.66, I_ERK, 0.14)], 0.22),
    (676.7, 690, [(0.55, I_TUB, 0.13)], 0.08),
]:
    blot(402, 550, y0, y1, I_LANES, bands, bg)

for y, s in [(519, "TAK1"), (533, "RIPK1"), (547, "Caspase-8"), (562, "Cleaved caspase-8"), (577, "Caspase-3"),
             (592, "Cleaved caspase-3"), (606, "p-P65"), (623, "P65"), (641, "p-ERK"), (664, "ERK"), (684, "Tubulin")]:
    label(553, y, s, size=6.6)
for y, s in [(514.3, "80"), (528, "80"), (552.7, "50"), (559, "25"), (580, "30"), (597, "15"), (606.7, "65"), (623, "65"),
             (638, "50"), (647.7, "40"), (659, "50"), (670, "40"), (686.7, "50")]:
    label(397, y, s, size=4.8, ha="right")
    ov.plot([397.5, 401], [y, y], color="#333333", linewidth=0.5)
label(478, 469.3, "3 dpi Colon IECs", size=6.4, ha="center")
rich(418, 491.5, TAK_FL, 6.4)
rich(452, 491.5, TAK_KO, 6.4)
rich(507, 481, TAK_KO, 6.4)
rich(501, 491.5, RIPK, 6.4)
for a, b in [(405, 448), (454, 497), (505, 547)]:
    ov.plot([a, b], [496, 496], color="#333333", linewidth=0.7)
label(353, 505, "Mouse NO.", size=6)
label(369, 514, "(kDa)", size=5)
for x, n in zip(I_LANES, [1, 2, 3, 4, 1, 2, 3, 4, 1, 2, 3, 4]):
    label(x, 505, str(n), size=6, ha="center")

J_LANES = [383.3, 394.3, 405.7, 416.3, 427.7, 438.7, 449.7, 460.7, 471.7, 482.7, 493.7, 504.7, 515.3]
for y0, y1, bands, bg in [
    (763.3, 775.3, [(0.5, J_TAK1, 0.14)], 0.05),
    (777.3, 819.3, [(0.1, J_RIPK1, 0.07), (0.45, J_SMEAR, 0.2), (0.82, J_CL_RIPK1, 0.06)], 0.14),
    (820, 831.3, [(0.55, J_TRADD, 0.24)], 0.1),
    (832.7, 840.7, [(0.5, J_CASP8, 0.16)], 0.06),
    (842.3, 853.3, [(0.5, J_CL_CASP8, 0.16)], 0.06),
    (855.3, 863, [(0.5, J_PP65, 0.2)], 0.08),
    (864.3, 872, [(0.5, J_P65, 0.2)], 0.14),
    (873.3, 883.3, [(0.33, J_PERK, 0.12), (0.68, J_PERK, 0.12)], 0.08),
    (885, 897.7, [(0.5, J_ERK, 0.35)], 0.35),
    (899.3, 912, [(0.35, J_PJNK, 0.12), (0.7, J_PJNK, 0.12)], 0.14),
    (913.3, 927.3, [(0.35, J_JNK, 0.12), (0.65, J_JNK, 0.12)], 0.2),
    (928.7, 938.3, [(0.3, J_PP38, 0.13), (0.65, J_PP38, 0.13)], 0.1),
    (940.7, 951, [(0.55, J_P38, 0.14)], 0.12),
    (952.7, 964, [(0.5, J_ACTIN, 0.15)], 0.12),
]:
    blot(377.7, 520, y0, y1, J_LANES, bands, bg)

for y, s in [(769.3, "TAK1"), (782.7, "RIPK1"), (814, "Cleaved RIPK1"), (826.7, "TRADD"), (836.7, "Caspase-8"),
             (847.7, "Cleaved caspase-8"), (858.7, "p-P65"), (868.3, "P65"), (877.3, "p-ERK"), (891.3, "ERK"),
             (904, "p-JNK"), (919, "JNK"), (932.3, "p-P38"), (945.7, "P38"), (957.3, "Actin")]:
    label(522, y, s, size=6.6)
for y_z, s in [(225, "80"), (260, "80"), (283, "65"), (317, "50"), (354, "40"), (378, "30"), (395, "40"), (420, "30"),
               (447, "50"), (468, "25"), (507, "65"), (537, "65"), (556, "50"), (572, "40"), (592, "50"), (618, "40"),
               (640, "50"), (661, "40"), (683, "50"), (708, "40"), (728, "40"), (771, "40"), (810, "40")]:
    y = 690 + y_z / 3
    label(373, y, s, size=5.2, ha="right")
    ov.plot([373.5, 377.5], [y, y], color="#333333", linewidth=0.5)
label(452, 719, "7 dpi Colon IECs", size=6.4, ha="center")
rich(391, 736, TAK_FL, 5.8)
rich(377, 744.5, RIPK, 5.8)
rich(434, 736, TAK_KO, 5.8)
rich(430, 744.5, RIPK, 5.8)
rich(487, 728, TAK_KO, 5.8)
rich(484, 736.5, TRADD, 5.8)
rich(482, 744.5, RIPK, 5.8)
for a, b in [(377, 420), (426, 476), (481, 520)]:
    ov.plot([a, b], [748.7, 748.7], color="#333333", linewidth=0.7)
label(343, 755, "Mouse NO.", size=5)
label(362, 765, "(kDa)", size=4.6, ha="right")
for x, n in zip(J_LANES, [1, 2, 3, 4, 1, 2, 3, 4, 5, 1, 2, 3, 4]):
    label(x, 756, str(n), size=5.6, ha="center")

fig.savefig("out.png", dpi=100, facecolor="white")
